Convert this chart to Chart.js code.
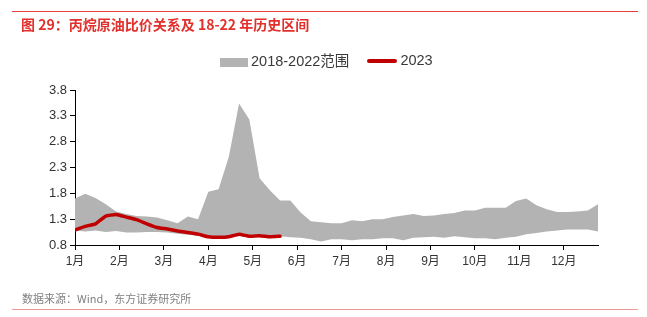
<!DOCTYPE html>
<html>
<head>
<meta charset="utf-8">
<script src="https://cdn.jsdelivr.net/npm/chart.js@4/dist/chart.umd.min.js"></script>
<style>
  html, body { margin: 0; padding: 0; background: #fff; }
  body { width: 647px; height: 317px; position: relative; overflow: hidden;
         font-family: "Liberation Sans", "Noto Sans CJK SC", sans-serif; }
  #topline { position: absolute; left: 12px; top: 11px; width: 626px; height: 1px; background: #e8413c; z-index: 2; }
  #title { position: absolute; left: 21px; top: 14px; font-size: 14px; font-weight: bold; color: #e2302c;
           font-family: "Noto Sans CJK SC", sans-serif; white-space: nowrap; z-index: 2; }
  #source { position: absolute; left: 22px; top: 290px; font-size: 11px; color: #808080;
            font-family: "Noto Sans CJK SC", sans-serif; white-space: nowrap; z-index: 2; }
  #botline { position: absolute; left: 12px; top: 309px; width: 626px; height: 1px; background: #ef9a94; z-index: 2; }
  #legend { position: absolute; top: 49px; left: 220px; font-size: 14.5px; color: #3a3a3a; white-space: nowrap; z-index: 2;
            font-family: "Liberation Sans", "Noto Sans CJK SC", sans-serif; }
  #legend span.item { display: inline-block; vertical-align: middle; }
  .swatch-area { display: inline-block; width: 28px; height: 9px; background: #b3b3b3; vertical-align: middle; margin-right: 3px; }
  .swatch-line { display: inline-block; width: 30px; height: 4px; background: #c00000; vertical-align: middle; margin-right: 3px; border-radius: 2px; }
  #wrap { position: absolute; left: 0; top: 0; width: 647px; height: 317px; z-index: 1; }
  canvas { display: block; }
</style>
</head>
<body>
<div id="topline"></div>
<div id="title">图 29：丙烷原油比价关系及 18-22 年历史区间</div>
<div id="legend">
  <span class="item"><span class="swatch-area"></span>2018-2022范围</span>
  <span class="item" style="margin-left:14px"><span class="swatch-line"></span>2023</span>
</div>
<div id="wrap"><canvas id="c" width="647" height="317"></canvas></div>
<div id="source">数据来源：Wind，东方证券研究所</div>
<div id="botline"></div>
<script>
// Month tick labels
const monthLabels = ["1月","2月","3月","4月","5月","6月","7月","8月","9月","10月","11月","12月"];
// y-axis tick labels
const yTicks = [0.8, 1.3, 1.8, 2.3, 2.8, 3.3, 3.8];
// weekly values (52 weeks)
const rangeUpper = [1.70,1.79,1.71,1.59,1.45,1.40,1.36,1.35,1.33,1.28,1.22,1.35,1.30,1.83,1.88,2.51,3.54,3.23,2.09,1.86,
                    1.66,1.66,1.43,1.26,1.24,1.22,1.22,1.28,1.26,1.30,1.30,1.34,1.37,1.40,1.36,1.37,1.40,1.42,1.47,1.47,
                    1.52,1.52,1.52,1.65,1.70,1.57,1.49,1.44,1.44,1.45,1.47,1.59];
const rangeLower = [1.08,1.06,1.08,1.05,1.07,1.04,1.04,1.05,1.05,1.04,1.02,1.00,0.98,0.96,0.95,0.96,0.99,0.96,0.97,0.96,
                    0.97,0.95,0.94,0.91,0.87,0.91,0.91,0.89,0.91,0.91,0.93,0.93,0.89,0.94,0.95,0.96,0.94,0.97,0.95,0.93,
                    0.93,0.91,0.94,0.96,1.01,1.03,1.06,1.08,1.10,1.10,1.10,1.06];
const series2023 = [1.09,1.16,1.21,1.36,1.39,1.34,1.29,1.21,1.14,1.11,1.07,1.04,1.01,0.96,0.95,0.96,1.01,0.97,0.98,0.96,0.97];

const toXY = arr => arr.map((v, i) => ({ x: i, y: v }));
const WEEKS = rangeUpper.length;

const fontFam = '"Liberation Sans", "Noto Sans CJK SC", sans-serif';

new Chart(document.getElementById('c'), {
  type: 'line',
  data: {
    datasets: [
      { label: 'lower', data: toXY(rangeLower), borderWidth: 0, pointRadius: 0, fill: false, borderColor: 'rgba(0,0,0,0)', order: 3 },
      { label: '2018-2022范围', data: toXY(rangeUpper), borderWidth: 0, pointRadius: 0, fill: '-1',
        backgroundColor: '#b3b3b3', borderColor: 'rgba(0,0,0,0)', order: 2 },
      { label: '2023', data: toXY(series2023), borderColor: '#c00000', borderWidth: 3.5, pointRadius: 0, fill: false,
        tension: 0.1, order: 1, borderCapStyle: 'round', borderJoinStyle: 'round' }
    ]
  },
  options: {
    responsive: false,
    animation: false,
    devicePixelRatio: 1,
    layout: { padding: { left: 0, right: 49, top: 90, bottom: 0 } },
    plugins: { legend: { display: false }, tooltip: { enabled: false } },
    scales: {
      x: {
        type: 'linear', min: 0, max: WEEKS - 1,
        afterBuildTicks: s => { s.ticks = monthLabels.map((m, k) => ({ value: k * WEEKS / 12 })); },
        afterFit: s => { s.height = 72; },
        ticks: {
          autoSkip: false, maxRotation: 0, padding: 4, color: '#333',
          font: { size: 12, family: fontFam },
          callback: (v, i) => monthLabels[i]
        },
        grid: { display: true, drawOnChartArea: false, drawTicks: true, tickLength: 5, color: '#000' },
        border: { display: true, color: '#000', width: 1 }
      },
      y: {
        min: 0.8, max: 3.8,
        afterBuildTicks: s => { s.ticks = yTicks.map(v => ({ value: v })); },
        afterFit: s => { s.width = 75; },
        ticks: {
          padding: 3, color: '#333', font: { size: 13, family: fontFam },
          callback: v => Number(v).toFixed(1)
        },
        grid: { display: true, drawOnChartArea: false, drawTicks: true, tickLength: 5, color: '#000' },
        border: { display: true, color: '#000', width: 1 }
      }
    }
  }
});
</script>
</body>
</html>
